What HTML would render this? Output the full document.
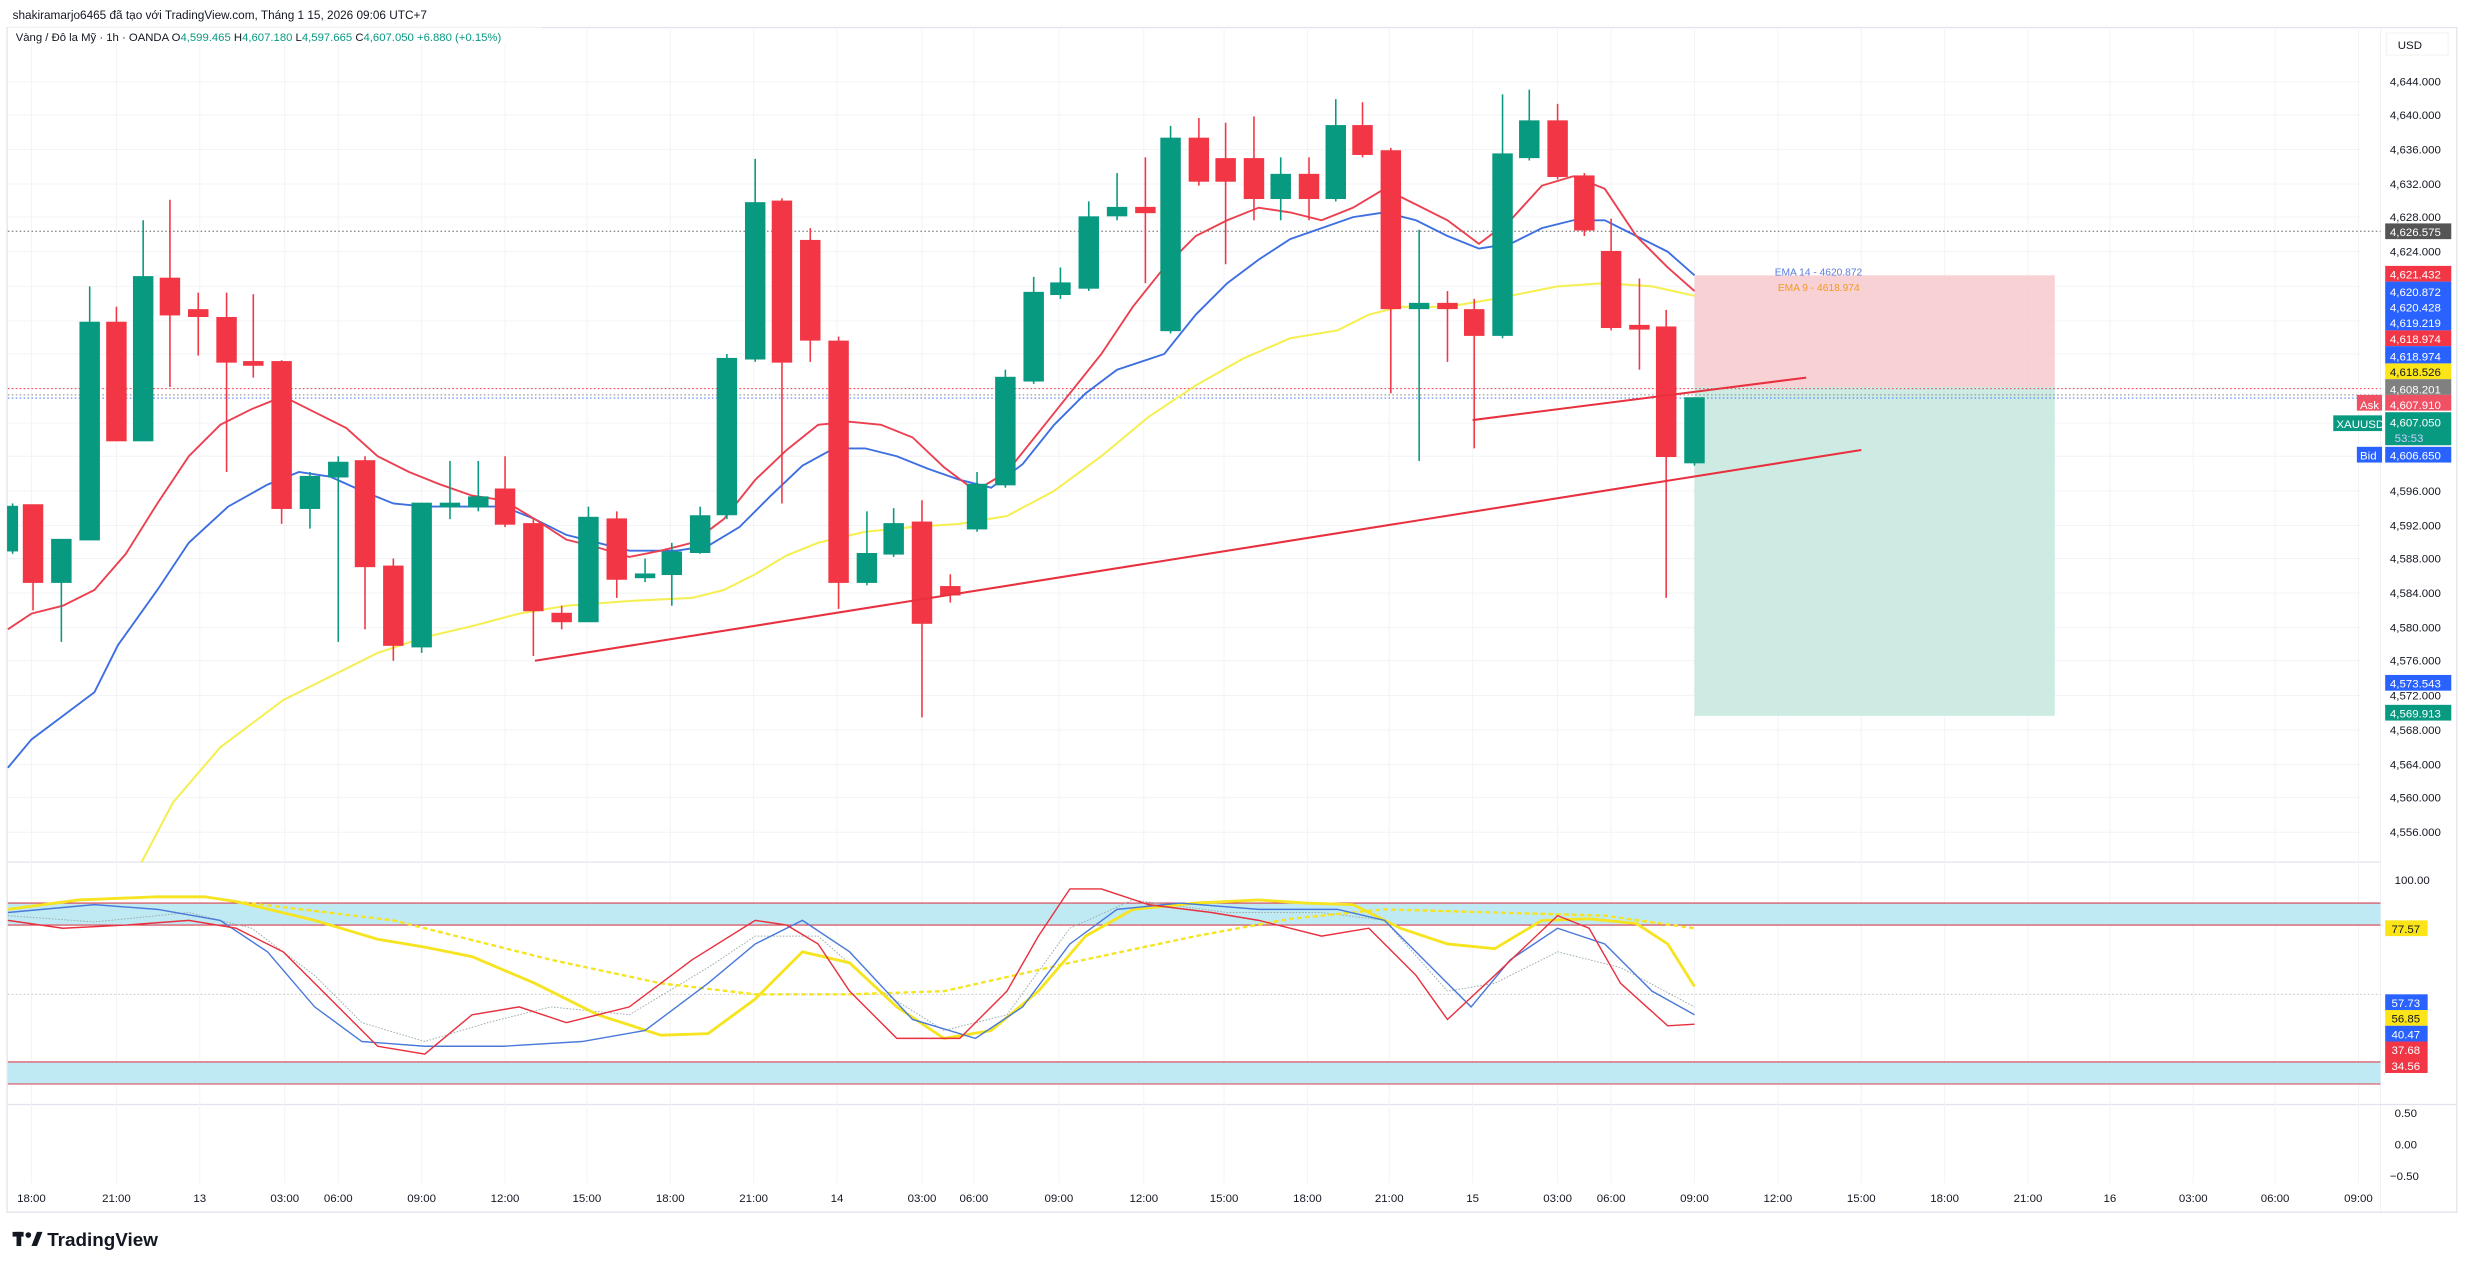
<!DOCTYPE html>
<html><head><meta charset="utf-8"><style>
html,body{margin:0;padding:0;background:#fff;}
svg{display:block;font-family:"Liberation Sans",sans-serif;}
</style></head><body>
<svg width="2467" height="1272" viewBox="0 0 1568 808.5" preserveAspectRatio="none" xmlns="http://www.w3.org/2000/svg">
<rect width="1568" height="808.5" fill="#fff"/>
<text x="8" y="12" font-size="7.5" fill="#131722">shakiramarjo6465 đã tạo với TradingView.com, Tháng 1 15, 2026 09:06 UTC+7</text>
<rect x="4.5" y="17.5" width="1557" height="753" fill="none" stroke="#e0e3eb" stroke-width="0.8"/>
<line x1="1513" y1="17" x2="1513" y2="770" stroke="#eef0f3" stroke-width="0.6"/>
<line x1="5" y1="548" x2="1513" y2="548" stroke="#e0e3eb" stroke-width="0.8"/>
<line x1="5" y1="702" x2="1561" y2="702" stroke="#e0e3eb" stroke-width="0.8"/>
<!-- grid -->
<g stroke="#f2f3f5" stroke-width="0.6">
<line x1="5" y1="52" x2="1500" y2="52"/><line x1="5" y1="73" x2="1500" y2="73"/><line x1="5" y1="95" x2="1500" y2="95"/><line x1="5" y1="117" x2="1500" y2="117"/><line x1="5" y1="138" x2="1500" y2="138"/><line x1="5" y1="160" x2="1500" y2="160"/><line x1="5" y1="182" x2="1500" y2="182"/><line x1="5" y1="204" x2="1500" y2="204"/><line x1="5" y1="225" x2="1500" y2="225"/><line x1="5" y1="247" x2="1500" y2="247"/><line x1="5" y1="269" x2="1500" y2="269"/><line x1="5" y1="290" x2="1500" y2="290"/><line x1="5" y1="312" x2="1500" y2="312"/><line x1="5" y1="334" x2="1500" y2="334"/><line x1="5" y1="355" x2="1500" y2="355"/><line x1="5" y1="377" x2="1500" y2="377"/><line x1="5" y1="399" x2="1500" y2="399"/><line x1="5" y1="420" x2="1500" y2="420"/><line x1="5" y1="442" x2="1500" y2="442"/><line x1="5" y1="464" x2="1500" y2="464"/><line x1="5" y1="486" x2="1500" y2="486"/><line x1="5" y1="507" x2="1500" y2="507"/><line x1="5" y1="529" x2="1500" y2="529"/>
<line x1="20" y1="17" x2="20" y2="752"/><line x1="74" y1="17" x2="74" y2="752"/><line x1="127" y1="17" x2="127" y2="752"/><line x1="181" y1="17" x2="181" y2="752"/><line x1="215" y1="17" x2="215" y2="752"/><line x1="268" y1="17" x2="268" y2="752"/><line x1="321" y1="17" x2="321" y2="752"/><line x1="373" y1="17" x2="373" y2="752"/><line x1="426" y1="17" x2="426" y2="752"/><line x1="479" y1="17" x2="479" y2="752"/><line x1="532" y1="17" x2="532" y2="752"/><line x1="586" y1="17" x2="586" y2="752"/><line x1="619" y1="17" x2="619" y2="752"/><line x1="673" y1="17" x2="673" y2="752"/><line x1="727" y1="17" x2="727" y2="752"/><line x1="778" y1="17" x2="778" y2="752"/><line x1="831" y1="17" x2="831" y2="752"/><line x1="883" y1="17" x2="883" y2="752"/><line x1="936" y1="17" x2="936" y2="752"/><line x1="990" y1="17" x2="990" y2="752"/><line x1="1024" y1="17" x2="1024" y2="752"/><line x1="1077" y1="17" x2="1077" y2="752"/><line x1="1130" y1="17" x2="1130" y2="752"/><line x1="1183" y1="17" x2="1183" y2="752"/><line x1="1236" y1="17" x2="1236" y2="752"/><line x1="1289" y1="17" x2="1289" y2="752"/><line x1="1341" y1="17" x2="1341" y2="752"/><line x1="1394" y1="17" x2="1394" y2="752"/><line x1="1446" y1="17" x2="1446" y2="752"/><line x1="1499" y1="17" x2="1499" y2="752"/>
</g>
<rect x="5" y="17.5" width="340" height="10" fill="#fff"/>
<text x="10" y="26" font-size="7.2" fill="#131722">Vàng / Đô la Mỹ · 1h · OANDA  O<tspan fill="#089981">4,599.465</tspan>  H<tspan fill="#089981">4,607.180</tspan>  L<tspan fill="#089981">4,597.665</tspan>  C<tspan fill="#089981">4,607.050  +6.880 (+0.15%)</tspan></text>
<!-- position box -->
<rect x="1077" y="175" width="229" height="71" fill="#f7c9cd" opacity="0.85"/>
<rect x="1077" y="246" width="229" height="209" fill="#cdeae3"/>
<text x="1128" y="175" font-size="6.5" fill="#5b7bdc">EMA 14 - 4620.872</text>
<text x="1130" y="185" font-size="6.5" fill="#f59a23">EMA 9 - 4618.974</text>
<!-- dotted lines -->
<line x1="5" y1="147" x2="1513" y2="147" stroke="#666" stroke-width="0.6" stroke-dasharray="1,1.5"/>
<line x1="5" y1="247" x2="1513" y2="247" stroke="#f23645" stroke-width="0.6" stroke-dasharray="1,1.5"/>
<line x1="5" y1="251" x2="1513" y2="251" stroke="#888" stroke-width="0.6" stroke-dasharray="1,1.5"/>
<line x1="5" y1="253" x2="1513" y2="253" stroke="#2962ff" stroke-width="0.6" stroke-dasharray="1,1.5"/>
<!-- EMAs -->
<polyline fill="none" stroke="#f5ef52" stroke-width="1.3" points="90,548 110,510 140,475 180,445 210,430 240,415 270,405 300,398 330,390 360,385 400,382 440,380 460,375 480,365 500,353 520,345 550,338 580,335 610,333 640,328 670,312 700,290 730,265 760,245 790,228 820,215 850,210 870,200 890,195 920,195 950,190 990,182 1020,180 1050,182 1077,188"/>
<polyline fill="none" stroke="#3d6fe0" stroke-width="1.2" points="5,488 20,470 40,455 60,440 75,410 100,375 120,345 145,322 170,308 190,300 210,303 230,312 250,320 270,322 300,322 320,322 340,330 360,340 380,345 400,350 430,350 450,347 470,335 490,315 510,296 530,285 550,285 570,290 590,298 610,305 630,310 650,295 670,270 690,250 710,235 740,225 760,200 780,180 800,165 820,152 840,145 860,138 880,135 900,140 920,150 940,158 960,155 980,145 1000,140 1020,140 1040,150 1060,160 1077,175"/>
<polyline fill="none" stroke="#ec3f4f" stroke-width="1.2" points="5,400 20,390 40,385 60,375 80,352 100,320 120,290 140,270 160,260 180,252 200,262 220,272 240,290 260,300 280,308 300,315 320,318 340,330 360,343 380,348 400,354 420,350 440,345 460,330 480,305 500,286 520,270 540,268 560,270 580,278 600,297 620,312 640,300 660,275 680,250 700,225 720,195 740,170 760,150 780,140 800,132 820,135 840,140 860,132 880,120 900,130 920,140 940,155 960,140 980,118 1000,112 1020,120 1040,150 1060,170 1077,185"/>
<!-- candles -->
<g stroke-width="1">
<g stroke="#089981" fill="#089981">
<line x1="8" y1="320" x2="8" y2="352"/><rect x="5" y="322" width="6" height="28"/>
<line x1="39" y1="343" x2="39" y2="408"/><rect x="33" y="343" width="12" height="27"/>
<line x1="57" y1="182" x2="57" y2="343"/><rect x="51" y="205" width="12" height="138"/>
<line x1="91" y1="140" x2="91" y2="280"/><rect x="85" y="176" width="12" height="104"/>
<line x1="197" y1="300" x2="197" y2="336"/><rect x="191" y="303" width="12" height="20"/>
<line x1="215" y1="290" x2="215" y2="408"/><rect x="209" y="294" width="12" height="9"/>
<line x1="268" y1="320" x2="268" y2="415"/><rect x="262" y="320" width="12" height="91"/>
<line x1="286" y1="293" x2="286" y2="330"/><rect x="280" y="320" width="12" height="2"/>
<line x1="304" y1="293" x2="304" y2="325"/><rect x="298" y="316" width="12" height="6"/>
<line x1="374" y1="322" x2="374" y2="395"/><rect x="368" y="329" width="12" height="66"/>
<line x1="410" y1="355" x2="410" y2="370"/><rect x="404" y="365" width="12" height="2"/>
<line x1="427" y1="345" x2="427" y2="385"/><rect x="421" y="351" width="12" height="14"/>
<line x1="445" y1="322" x2="445" y2="352"/><rect x="439" y="328" width="12" height="23"/>
<line x1="462" y1="225" x2="462" y2="330"/><rect x="456" y="228" width="12" height="99"/>
<line x1="480" y1="101" x2="480" y2="230"/><rect x="474" y="129" width="12" height="99"/>
<line x1="551" y1="325" x2="551" y2="372"/><rect x="545" y="352" width="12" height="18"/>
<line x1="568" y1="323" x2="568" y2="354"/><rect x="562" y="333" width="12" height="19"/>
<line x1="621" y1="300" x2="621" y2="338"/><rect x="615" y="308" width="12" height="28"/>
<line x1="639" y1="235" x2="639" y2="310"/><rect x="633" y="240" width="12" height="68"/>
<line x1="657" y1="176" x2="657" y2="244"/><rect x="651" y="186" width="12" height="56"/>
<line x1="674" y1="170" x2="674" y2="190"/><rect x="668" y="180" width="12" height="7"/>
<line x1="692" y1="128" x2="692" y2="185"/><rect x="686" y="138" width="12" height="45"/>
<line x1="710" y1="110" x2="710" y2="140"/><rect x="704" y="132" width="12" height="5"/>
<line x1="744" y1="80" x2="744" y2="212"/><rect x="738" y="88" width="12" height="122"/>
<line x1="814" y1="100" x2="814" y2="140"/><rect x="808" y="111" width="12" height="15"/>
<line x1="849" y1="63" x2="849" y2="128"/><rect x="843" y="80" width="12" height="46"/>
<line x1="902" y1="146" x2="902" y2="293"/><rect x="896" y="193" width="12" height="3"/>
<line x1="955" y1="60" x2="955" y2="215"/><rect x="949" y="98" width="12" height="115"/>
<line x1="972" y1="57" x2="972" y2="102"/><rect x="966" y="77" width="12" height="23"/>
<line x1="1077" y1="253" x2="1077" y2="296"/><rect x="1071" y="253" width="12" height="41"/>
</g>
<g stroke="#f23645" fill="#f23645">
<line x1="21" y1="321" x2="21" y2="388"/><rect x="15" y="321" width="12" height="49"/>
<line x1="74" y1="195" x2="74" y2="280"/><rect x="68" y="205" width="12" height="75"/>
<line x1="108" y1="127" x2="108" y2="246"/><rect x="102" y="177" width="12" height="23"/>
<line x1="126" y1="186" x2="126" y2="226"/><rect x="120" y="197" width="12" height="4"/>
<line x1="144" y1="186" x2="144" y2="300"/><rect x="138" y="202" width="12" height="28"/>
<line x1="161" y1="187" x2="161" y2="240"/><rect x="155" y="230" width="12" height="2"/>
<line x1="179" y1="229" x2="179" y2="333"/><rect x="173" y="230" width="12" height="93"/>
<line x1="232" y1="290" x2="232" y2="400"/><rect x="226" y="293" width="12" height="67"/>
<line x1="250" y1="355" x2="250" y2="420"/><rect x="244" y="360" width="12" height="50"/>
<line x1="321" y1="290" x2="321" y2="335"/><rect x="315" y="311" width="12" height="22"/>
<line x1="339" y1="330" x2="339" y2="417"/><rect x="333" y="333" width="12" height="55"/>
<line x1="357" y1="385" x2="357" y2="400"/><rect x="351" y="390" width="12" height="5"/>
<line x1="392" y1="325" x2="392" y2="380"/><rect x="386" y="330" width="12" height="38"/>
<line x1="497" y1="126" x2="497" y2="320"/><rect x="491" y="128" width="12" height="102"/>
<line x1="515" y1="145" x2="515" y2="230"/><rect x="509" y="153" width="12" height="63"/>
<line x1="533" y1="214" x2="533" y2="387"/><rect x="527" y="217" width="12" height="153"/>
<line x1="586" y1="318" x2="586" y2="456"/><rect x="580" y="332" width="12" height="64"/>
<line x1="604" y1="365" x2="604" y2="383"/><rect x="598" y="373" width="12" height="5"/>
<line x1="728" y1="100" x2="728" y2="180"/><rect x="722" y="132" width="12" height="3"/>
<line x1="762" y1="75" x2="762" y2="118"/><rect x="756" y="88" width="12" height="27"/>
<line x1="779" y1="78" x2="779" y2="168"/><rect x="773" y="101" width="12" height="14"/>
<line x1="797" y1="74" x2="797" y2="140"/><rect x="791" y="101" width="12" height="25"/>
<line x1="832" y1="100" x2="832" y2="140"/><rect x="826" y="111" width="12" height="15"/>
<line x1="866" y1="65" x2="866" y2="100"/><rect x="860" y="80" width="12" height="18"/>
<line x1="884" y1="94" x2="884" y2="250"/><rect x="878" y="96" width="12" height="100"/>
<line x1="920" y1="185" x2="920" y2="230"/><rect x="914" y="193" width="12" height="3"/>
<line x1="937" y1="190" x2="937" y2="285"/><rect x="931" y="197" width="12" height="16"/>
<line x1="990" y1="66" x2="990" y2="114"/><rect x="984" y="77" width="12" height="35"/>
<line x1="1007" y1="110" x2="1007" y2="150"/><rect x="1001" y="112" width="12" height="34"/>
<line x1="1024" y1="139" x2="1024" y2="210"/><rect x="1018" y="160" width="12" height="48"/>
<line x1="1042" y1="177" x2="1042" y2="235"/><rect x="1036" y="207" width="12" height="2"/>
<line x1="1059" y1="197" x2="1059" y2="380"/><rect x="1053" y="208" width="12" height="82"/>
</g>
</g>
<!-- trend lines -->
<line x1="340" y1="420" x2="1183" y2="286" stroke="#e8303f" stroke-width="1.3"/>
<line x1="936" y1="267" x2="1148" y2="240" stroke="#e8303f" stroke-width="1.3"/>
<!-- osc bands -->
<rect x="5" y="574" width="1508" height="14" fill="#bfeaf3"/>
<rect x="5" y="675" width="1508" height="14" fill="#bfeaf3"/>
<g stroke="#d8404f" stroke-width="0.7"><line x1="5" y1="574" x2="1513" y2="574"/><line x1="5" y1="588" x2="1513" y2="588"/><line x1="5" y1="675" x2="1513" y2="675"/><line x1="5" y1="689" x2="1513" y2="689"/></g>
<line x1="5" y1="632" x2="1513" y2="632" stroke="#bbb" stroke-width="0.6" stroke-dasharray="1,1.5"/>
<polyline fill="none" stroke="#9aa" stroke-width="0.6" stroke-dasharray="1,1" points="5,582 60,586 120,580 160,590 200,620 230,650 270,662 310,650 350,640 400,645 450,615 480,595 520,595 560,630 600,655 640,645 680,590 720,572 780,580 840,580 880,585 920,630 950,625 990,605 1030,615 1077,640"/>
<polyline fill="none" stroke="#f5e41f" stroke-width="1.8" points="5,578 50,572 100,570 130,570 150,573 200,585 240,597 270,602 300,608 340,625 380,645 420,658 450,657 480,635 510,605 540,612 570,640 600,660 630,655 660,630 690,595 720,578 760,574 800,572 830,574 860,575 890,590 920,600 950,603 980,585 1010,584 1040,587 1060,600 1077,627"/>
<polyline fill="none" stroke="#f5e41f" stroke-width="1.5" stroke-dasharray="3,2" points="150,573 250,585 350,610 420,625 480,632 540,632 600,630 680,612 760,595 820,584 880,578 950,580 1020,582 1077,590"/>
<polyline fill="none" stroke="#4a79d9" stroke-width="0.9" points="5,580 60,575 100,578 140,585 170,605 200,640 230,662 270,665 320,665 370,662 410,655 450,625 480,600 510,585 540,605 580,648 620,660 650,640 680,600 710,578 750,574 800,578 850,578 880,585 910,615 935,640 960,610 990,590 1020,600 1050,630 1077,645"/>
<polyline fill="none" stroke="#e8303f" stroke-width="0.9" points="5,585 40,590 80,588 120,585 150,590 180,605 210,635 240,665 270,670 300,645 330,640 360,650 400,640 440,610 480,585 500,588 520,600 540,630 570,660 610,660 640,630 660,595 680,565 700,565 730,575 770,580 800,585 840,595 870,590 900,620 920,648 950,620 990,582 1010,590 1030,625 1060,652 1077,651"/>
<!-- price axis labels -->
<g font-size="7.3" fill="#131722">
<rect x="1517" y="21" width="39" height="14" fill="#fff" stroke="#eee" stroke-width="0.5"/>
<text x="1524" y="31">USD</text>
<text x="1519" y="54.5">4,644.000</text><text x="1519" y="75.5">4,640.000</text><text x="1519" y="97.5">4,636.000</text><text x="1519" y="119.5">4,632.000</text><text x="1519" y="140.5">4,628.000</text><text x="1519" y="162.5">4,624.000</text>
<text x="1519" y="314.5">4,596.000</text><text x="1519" y="336.5">4,592.000</text><text x="1519" y="357.5">4,588.000</text><text x="1519" y="379.5">4,584.000</text><text x="1519" y="401.5">4,580.000</text><text x="1519" y="422.5">4,576.000</text><text x="1519" y="444.5">4,572.000</text><text x="1519" y="466.5">4,568.000</text><text x="1519" y="488.5">4,564.000</text><text x="1519" y="509.5">4,560.000</text><text x="1519" y="531.5">4,556.000</text>
</g>
<g font-size="7.3" fill="#fff">
<rect x="1516" y="142" width="42" height="10" fill="#555"/><text x="1519" y="150">4,626.575</text>
<rect x="1516" y="169" width="42" height="10" fill="#f23645"/><text x="1519" y="177">4,621.432</text>
<rect x="1516" y="179" width="42" height="31" fill="#2962ff"/><text x="1519" y="188">4,620.872</text><text x="1519" y="198">4,620.428</text><text x="1519" y="208">4,619.219</text>
<rect x="1516" y="210" width="42" height="10" fill="#f23645"/><text x="1519" y="218">4,618.974</text>
<rect x="1516" y="220" width="42" height="11" fill="#2962ff"/><text x="1519" y="229">4,618.974</text>
<rect x="1516" y="231" width="42" height="10" fill="#fbe417"/><text x="1519" y="239" fill="#131722">4,618.526</text>
<rect x="1516" y="241" width="42" height="10" fill="#808080"/><text x="1519" y="250">4,608.201</text>
<rect x="1516" y="251" width="42" height="10" fill="#f05063"/><text x="1519" y="260">4,607.910</text>
<rect x="1498" y="251" width="16" height="10" fill="#f05063"/><text x="1500" y="260">Ask</text>
<rect x="1516" y="262" width="42" height="21" fill="#089981"/><text x="1519" y="271">4,607.050</text><text x="1522" y="281" fill="#ccf">53:53</text>
<rect x="1483" y="264" width="31" height="10" fill="#089981"/><text x="1485" y="272">XAUUSD</text>
<rect x="1516" y="284" width="42" height="10" fill="#2962ff"/><text x="1519" y="292">4,606.650</text>
<rect x="1498" y="284" width="16" height="10" fill="#2962ff"/><text x="1500" y="292">Bid</text>
<rect x="1516" y="429" width="42" height="10" fill="#2962ff"/><text x="1519" y="437">4,573.543</text>
<rect x="1516" y="448" width="42" height="10" fill="#089981"/><text x="1519" y="456">4,569.913</text>
</g>
<g font-size="7.3" fill="#131722">
<text x="1522" y="562">100.00</text><text x="1522" y="590">80.00</text><text x="1522" y="677">20.00</text>
<text x="1522" y="710">0.50</text><text x="1522" y="730">0.00</text><text x="1519" y="750">−0.50</text>
</g>
<g font-size="7.3" fill="#fff">
<rect x="1516" y="585" width="27" height="10" fill="#fbe417"/><text x="1520" y="593" fill="#131722">77.57</text>
<rect x="1516" y="632" width="27" height="10" fill="#2962ff"/><text x="1520" y="640">57.73</text>
<rect x="1516" y="642" width="27" height="10" fill="#fbe417"/><text x="1520" y="650" fill="#131722">56.85</text>
<rect x="1516" y="652" width="27" height="10" fill="#2962ff"/><text x="1520" y="660">40.47</text>
<rect x="1516" y="662" width="27" height="20" fill="#f23645"/><text x="1520" y="670">37.68</text><text x="1520" y="680">34.56</text>
</g>
<!-- time axis -->
<g font-size="7.3" fill="#131722" text-anchor="middle">
<text x="20" y="764">18:00</text><text x="74" y="764">21:00</text><text x="127" y="764">13</text><text x="181" y="764">03:00</text><text x="215" y="764">06:00</text><text x="268" y="764">09:00</text><text x="321" y="764">12:00</text><text x="373" y="764">15:00</text><text x="426" y="764">18:00</text><text x="479" y="764">21:00</text><text x="532" y="764">14</text><text x="586" y="764">03:00</text><text x="619" y="764">06:00</text><text x="673" y="764">09:00</text><text x="727" y="764">12:00</text><text x="778" y="764">15:00</text><text x="831" y="764">18:00</text><text x="883" y="764">21:00</text><text x="936" y="764">15</text><text x="990" y="764">03:00</text><text x="1024" y="764">06:00</text><text x="1077" y="764">09:00</text><text x="1130" y="764">12:00</text><text x="1183" y="764">15:00</text><text x="1236" y="764">18:00</text><text x="1289" y="764">21:00</text><text x="1341" y="764">16</text><text x="1394" y="764">03:00</text><text x="1446" y="764">06:00</text><text x="1499" y="764">09:00</text>
</g>
<!-- logo -->
<g fill="#131722">
<rect x="8" y="783" width="7" height="3"/><rect x="10.5" y="783" width="3" height="9"/>
<circle cx="18" cy="785" r="1.8"/><path d="M20 792 L23.5 783 L27 783 L23.5 792 Z"/>
<text x="30" y="792" font-size="12" font-weight="bold">TradingView</text>
</g>
</svg>
</body></html>
